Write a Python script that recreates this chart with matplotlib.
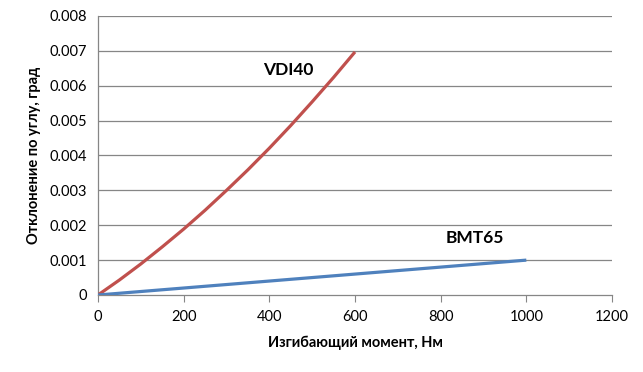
import matplotlib.pyplot as plt

plt.rcParams['font.family'] = ['Lato', 'DejaVu Sans']

# Данные
vdi_x = [0, 50, 100, 150, 200, 250, 300, 350, 400, 450, 500, 550, 600]
vdi_y = [0, 0.00043, 0.00089, 0.00138, 0.00189, 0.00243, 0.0030, 0.00359,
         0.00421, 0.00486, 0.00554, 0.00624, 0.00697]
bmt_x = [0, 1000]
bmt_y = [0, 0.001]
x_ticks = [0, 200, 400, 600, 800, 1000, 1200]
y_ticks = [0, 0.001, 0.002, 0.003, 0.004, 0.005, 0.006, 0.007, 0.008]
y_tick_labels = ['0', '0.001', '0.002', '0.003', '0.004', '0.005', '0.006', '0.007', '0.008']

fig = plt.figure(figsize=(6.43, 3.72), dpi=100)
ax = fig.add_axes([0.1524, 0.207, 0.7994, 0.75])

grid_color = '#868686'
for y in y_ticks[1:]:
    ax.axhline(y, color=grid_color, lw=0.9, zorder=1)

ax.plot(vdi_x, vdi_y, color='#C0504D', lw=2.3, solid_capstyle='butt', zorder=3)
ax.plot(bmt_x, bmt_y, color='#4F81BD', lw=2.3, solid_capstyle='butt', zorder=3)

ax.text(444, 0.00645, 'VDI40', fontsize=12.5, fontweight='bold', ha='center', va='center')
ax.text(880, 0.00163, 'BMT65', fontsize=12.5, fontweight='bold', ha='center', va='center')

ax.set_xlim(0, 1200)
ax.set_ylim(0, 0.008)
ax.set_xticks(x_ticks)
ax.set_yticks(y_ticks)
ax.set_yticklabels(y_tick_labels)
ax.tick_params(axis='x', direction='out', length=5, color=grid_color, labelsize=10.5, pad=6)
ax.tick_params(axis='y', length=0, labelsize=10.5, pad=8)

for side in ['top', 'right']:
    ax.spines[side].set_visible(False)
for side in ['left', 'bottom']:
    ax.spines[side].set_color(grid_color)
    ax.spines[side].set_linewidth(0.9)

ax.set_xlabel('Изгибающий момент, Нм', fontsize=10.5, fontweight='bold', labelpad=8)
ax.set_ylabel('Отклонение по углу, град', fontsize=10.5, fontweight='bold', labelpad=6)

plt.savefig('out.png', dpi=100)
